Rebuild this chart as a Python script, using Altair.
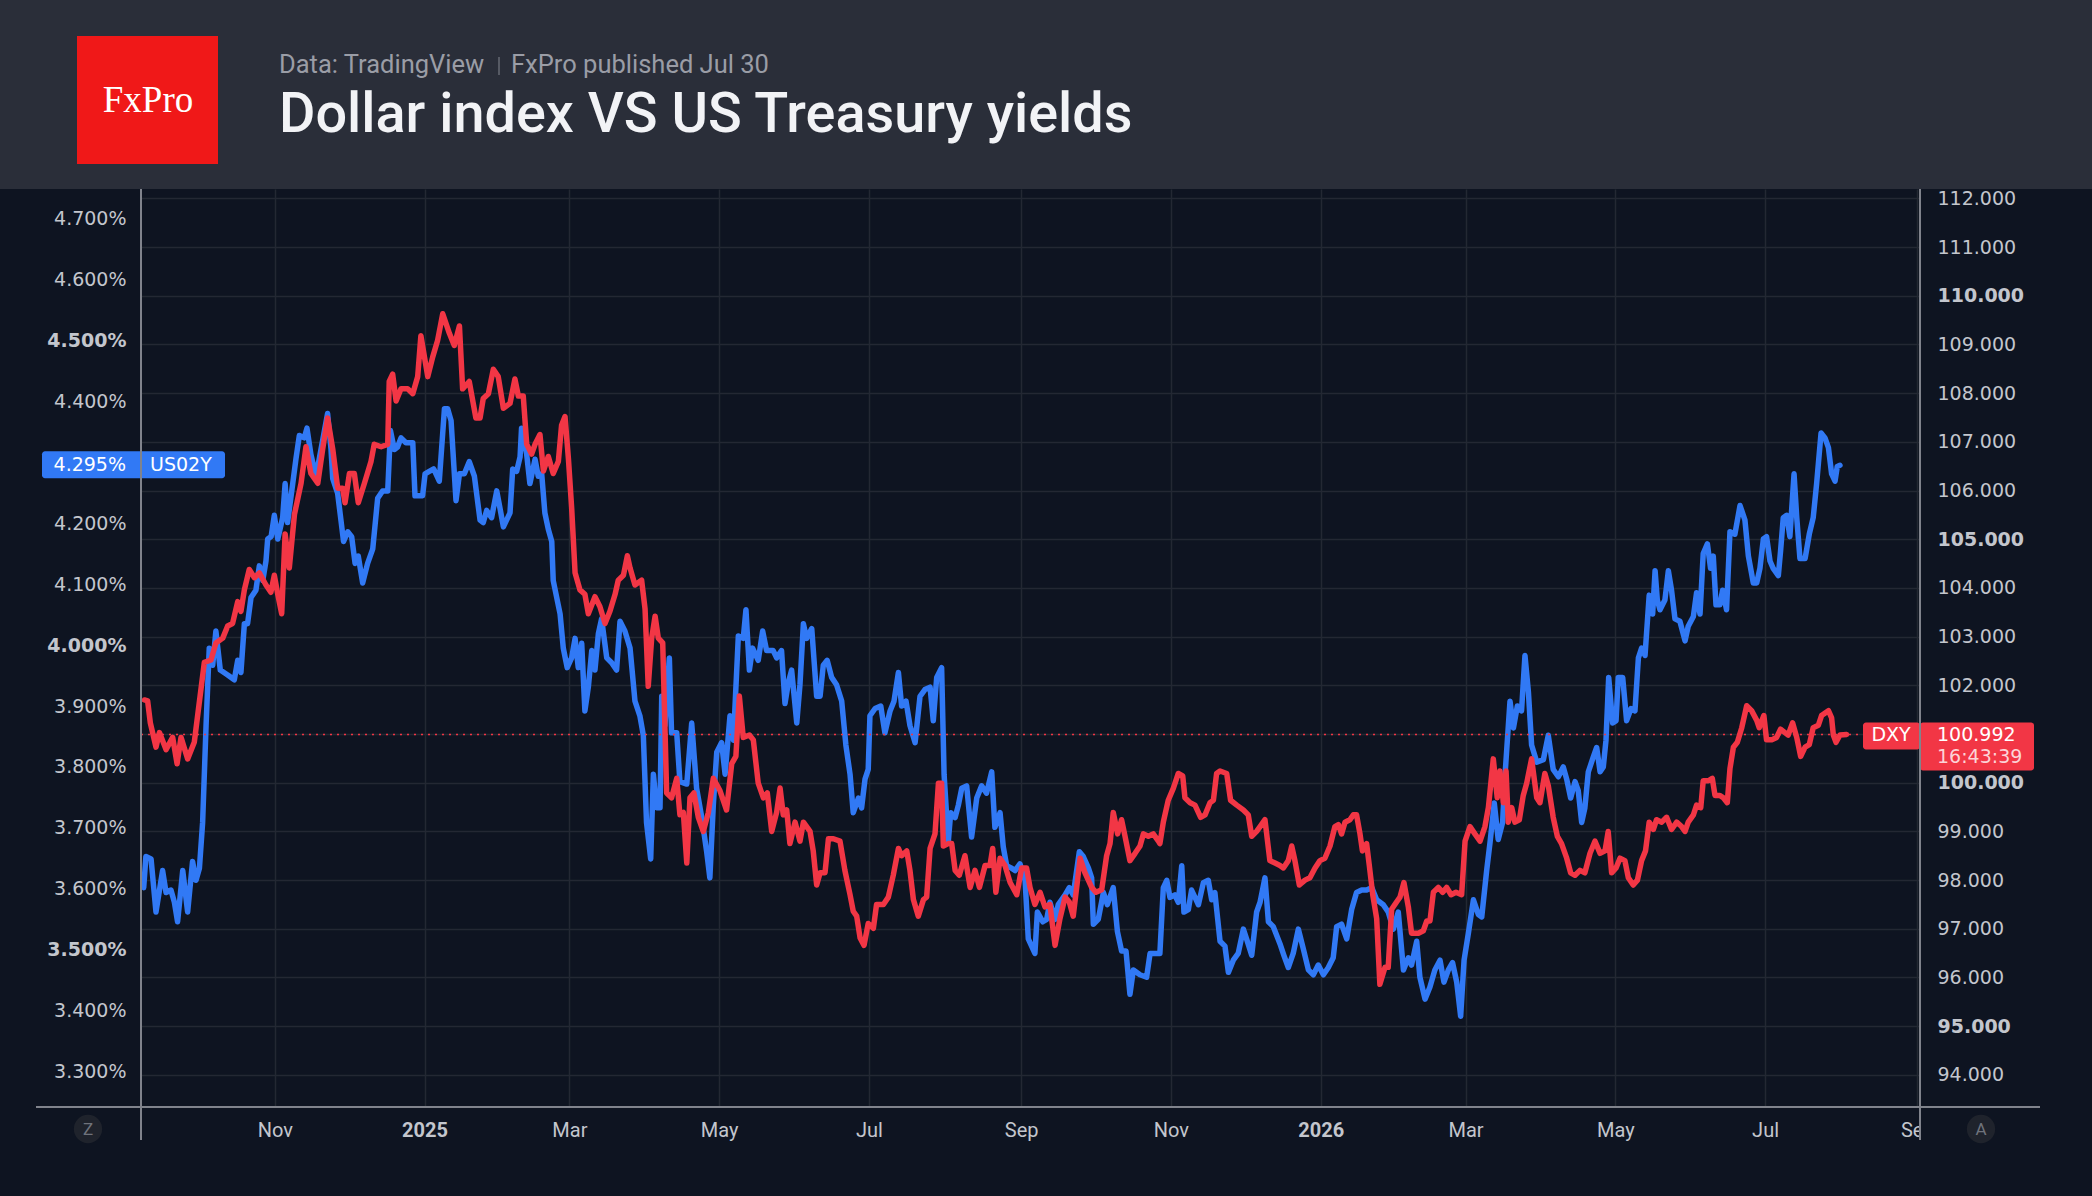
import altair as alt
import pandas as pd

# ---------------- data ----------------
# day = days after 2024-09-07 12:00 (calendar time), value = reading
BASE = pd.Timestamp("2024-09-07 12:00:00")

US02Y = [
    (1.1, 3.602), (2.0, 3.653), (4.1, 3.649), (6.1, 3.562), (8.8, 3.630), (10.2, 3.594), (12.2, 3.598),
    (13.6, 3.578), (14.9, 3.546), (17.0, 3.630), (19.0, 3.562), (21.0, 3.645), (22.4, 3.614), (23.8, 3.634),
    (25.1, 3.709), (26.5, 3.868), (27.8, 3.995), (29.2, 3.967), (30.5, 4.023), (32.3, 3.959), (35.3, 3.951),
    (38.0, 3.943), (39.4, 3.975), (40.7, 3.955), (42.1, 4.035), (43.4, 4.035), (44.8, 4.078), (46.8, 4.090),
    (48.2, 4.130), (49.6, 4.106), (50.9, 4.138), (51.6, 4.174), (53.0, 4.178), (54.3, 4.213), (55.7, 4.174),
    (57.7, 4.209), (58.7, 4.265), (59.7, 4.201), (61.8, 4.265), (63.1, 4.305), (64.5, 4.344), (66.5, 4.340),
    (67.6, 4.356), (69.2, 4.313), (71.3, 4.277), (73.3, 4.321), (76.0, 4.380), (77.4, 4.321), (78.1, 4.273),
    (80.1, 4.249), (82.5, 4.170), (84.2, 4.186), (85.8, 4.178), (87.2, 4.134), (88.5, 4.146), (90.3, 4.102),
    (92.3, 4.134), (94.4, 4.158), (96.4, 4.241), (98.4, 4.253), (100.5, 4.253), (101.6, 4.352), (103.2, 4.321),
    (104.5, 4.325), (105.9, 4.340), (107.9, 4.332), (110.7, 4.332), (111.6, 4.245), (114.7, 4.245), (115.7, 4.281),
    (117.4, 4.285), (119.2, 4.289), (121.5, 4.269), (123.6, 4.388), (124.9, 4.388), (126.3, 4.368), (128.3, 4.237),
    (129.7, 4.281), (131.7, 4.281), (133.7, 4.301), (135.8, 4.277),
    (138.1, 4.205), (139.4, 4.201), (140.8, 4.221), (142.8, 4.209), (144.9, 4.253), (146.2, 4.225), (147.6, 4.194),
    (150.3, 4.217), (151.4, 4.289), (153.0, 4.285), (154.4, 4.309), (155.0, 4.356), (157.1, 4.313), (158.4, 4.265),
    (160.5, 4.305), (161.8, 4.277), (163.2, 4.281), (164.5, 4.217), (165.9, 4.190), (167.3, 4.170), (167.9, 4.106),
    (170.7, 4.051), (172.0, 3.995), (173.6, 3.963), (175.4, 3.979), (176.8, 4.011), (178.1, 3.963), (179.5, 4.003),
    (180.8, 3.892), (182.2, 3.931), (183.6, 3.991), (184.9, 3.959), (186.3, 4.019), (187.6, 4.043), (189.7, 3.979),
    (191.7, 3.971), (193.7, 3.959), (195.1, 4.039), (197.1, 4.023), (199.2, 3.995), (201.2, 3.908), (203.2, 3.884),
    (204.6, 3.852), (205.9, 3.709), (207.6, 3.649), (208.7, 3.788), (210.0, 3.733), (211.4, 3.733), (212.1, 3.916),
    (213.4, 3.868), (215.2, 3.979), (216.1, 3.856), (218.2, 3.856), (219.5, 3.776), (222.3, 3.772), (224.3, 3.872),
    (226.3, 3.765), (228.4, 3.717), (230.4, 3.661), (231.7, 3.618), (233.1, 3.737), (234.5, 3.824), (236.5, 3.840),
    (237.9, 3.788), (239.9, 3.884), (241.3, 3.844), (243.3, 4.015), (245.3, 4.011), (246.4, 4.058), (247.8, 3.959),
    (249.1, 3.995), (251.4, 3.975), (253.2, 4.023), (254.8, 3.991), (257.5, 3.991), (258.9, 3.979), (260.9, 3.991),
    (262.3, 3.904), (263.7, 3.939), (265.0, 3.959), (267.1, 3.872), (268.4, 3.935), (269.8, 4.035), (271.1, 4.011),
    (273.2, 4.027), (275.2, 3.916),
    (276.6, 3.916), (277.9, 3.967), (279.5, 3.975), (281.3, 3.947), (283.3, 3.935), (285.4, 3.908), (287.1, 3.836),
    (288.8, 3.788), (290.1, 3.725), (292.2, 3.749), (293.5, 3.733), (294.9, 3.780), (296.2, 3.796), (296.9, 3.884),
    (299.0, 3.896), (301.3, 3.900), (303.0, 3.856), (305.1, 3.892), (306.7, 3.908), (308.5, 3.955), (309.8, 3.900),
    (311.6, 3.908), (313.2, 3.868), (315.3, 3.840), (317.3, 3.916), (319.3, 3.927), (321.4, 3.931), (322.7, 3.876),
    (324.1, 3.947), (326.1, 3.963), (327.1, 3.788), (328.8, 3.677), (329.8, 3.725), (331.6, 3.717), (332.9, 3.737),
    (334.3, 3.765), (336.3, 3.769), (338.3, 3.685), (340.4, 3.749), (342.4, 3.769), (344.4, 3.757), (346.5, 3.792),
    (347.8, 3.701), (349.9, 3.725), (351.2, 3.669), (352.6, 3.638), (354.6, 3.634), (356.0, 3.630), (358.0, 3.641),
    (360.1, 3.614), (361.4, 3.518), (364.1, 3.494), (365.1, 3.562), (367.3, 3.546), (368.9, 3.550), (370.2, 3.578),
    (372.3, 3.550), (373.6, 3.574), (376.4, 3.590), (378.1, 3.602), (379.7, 3.590), (382.2, 3.661), (383.8, 3.653),
    (385.9, 3.634), (387.2, 3.618), (387.9, 3.542), (389.9, 3.550), (392.0, 3.594), (393.6, 3.574), (396.0, 3.602),
    (397.7, 3.530), (399.4, 3.498), (401.2, 3.498), (402.8, 3.427), (404.2, 3.467), (406.9, 3.459), (409.6, 3.455),
    (411.0, 3.494), (413.0, 3.494),
    (415.0, 3.494), (416.4, 3.602), (417.8, 3.614), (419.1, 3.586), (421.1, 3.590), (422.5, 3.578), (423.9, 3.638),
    (424.8, 3.562), (426.6, 3.566), (427.9, 3.598), (429.3, 3.586), (430.7, 3.574), (432.7, 3.610), (434.7, 3.614),
    (436.1, 3.582), (437.4, 3.594), (439.5, 3.514), (441.5, 3.506), (442.9, 3.463), (444.9, 3.483), (446.9, 3.494),
    (449.0, 3.534), (450.3, 3.518), (452.4, 3.491), (454.4, 3.562), (455.8, 3.578), (457.8, 3.618), (459.2, 3.546),
    (461.2, 3.538), (463.9, 3.510), (465.5, 3.491), (467.3, 3.471), (469.3, 3.494), (471.4, 3.534), (473.4, 3.502),
    (475.5, 3.467), (477.5, 3.459), (479.5, 3.475), (481.6, 3.459), (483.6, 3.471), (485.6, 3.487), (487.0, 3.538),
    (489.0, 3.542), (491.1, 3.518), (493.1, 3.566), (495.1, 3.594), (497.2, 3.598), (499.2, 3.598), (501.3, 3.602),
    (503.3, 3.582), (506.0, 3.574), (508.0, 3.562), (510.1, 3.534), (512.1, 3.562), (514.2, 3.467), (516.2, 3.487),
    (517.5, 3.475), (519.6, 3.514), (520.9, 3.455), (523.0, 3.419), (525.0, 3.439), (527.0, 3.467), (529.1, 3.483),
    (530.7, 3.447), (532.5, 3.467), (534.2, 3.479), (535.9, 3.447), (537.5, 3.391), (538.9, 3.483), (540.6, 3.526),
    (542.7, 3.582), (544.7, 3.558), (546.1, 3.554), (548.1, 3.630), (549.5, 3.677), (551.2, 3.741), (552.8, 3.681),
    (554.6, 3.709), (555.6, 3.788), (557.6, 3.908), (559.0, 3.864), (560.6, 3.900), (562.3, 3.892), (563.7, 3.983),
    (565.1, 3.923), (566.4, 3.836), (568.5, 3.808), (571.2, 3.812), (573.2, 3.852), (575.2, 3.796), (577.3, 3.784),
    (579.3, 3.800), (580.7, 3.780), (582.3, 3.749), (584.1, 3.776), (585.4, 3.761), (586.8, 3.709), (588.1, 3.733),
    (589.5, 3.792), (591.5, 3.816), (592.9, 3.832), (594.3, 3.792), (595.6, 3.800), (596.7, 3.844), (597.8, 3.947),
    (599.4, 3.872), (600.8, 3.876), (601.7, 3.947), (603.5, 3.947), (605.1, 3.876), (606.9, 3.896), (608.5, 3.892),
    (609.9, 3.979), (611.2, 3.995), (612.6, 3.983), (614.3, 4.082), (615.7, 4.051), (616.7, 4.122), (617.6, 4.074),
    (618.7, 4.058), (620.7, 4.074), (622.1, 4.122), (623.4, 4.090), (624.8, 4.043), (626.8, 4.039), (628.9, 4.007),
    (630.2, 4.031), (632.3, 4.047), (633.6, 4.086), (635.0, 4.051), (636.3, 4.150), (638.0, 4.166), (639.3, 4.126),
    (640.4, 4.146), (641.5, 4.066), (643.1, 4.066), (644.2, 4.090), (645.8, 4.058), (647.2, 4.186), (649.2, 4.182),
    (651.3, 4.229), (653.3, 4.205), (654.7, 4.146), (656.7, 4.102), (658.1, 4.102), (659.4, 4.126), (660.8, 4.174),
    (662.1, 4.178), (663.5, 4.138), (664.8, 4.126), (666.9, 4.114), (667.8, 4.154), (668.9, 4.209), (670.3, 4.213),
    (671.6, 4.178), (673.3, 4.281), (674.4, 4.209), (675.7, 4.142), (677.8, 4.142), (679.5, 4.182), (681.1, 4.209),
    (682.5, 4.265), (684.3, 4.348), (685.9, 4.340), (687.3, 4.324), (688.6, 4.281), (690.0, 4.269), (690.9, 4.293),
    (692.0, 4.295),
]

DXY = [
    (1.4, 101.70), (2.7, 101.68), (3.8, 101.23), (6.1, 100.73), (7.5, 101.03), (10.2, 100.68), (12.9, 100.93),
    (14.7, 100.39), (16.3, 100.93), (19.0, 100.49), (21.7, 100.83), (25.8, 102.47), (28.5, 102.52), (30.5, 102.87),
    (33.3, 102.97), (35.3, 103.22), (37.3, 103.27), (39.4, 103.72), (40.7, 103.52), (42.1, 103.96), (44.1, 104.38),
    (46.2, 104.21), (48.2, 104.31), (50.9, 104.06), (52.9, 103.91), (54.3, 104.26), (55.7, 103.87), (57.3, 103.47),
    (58.7, 105.11), (60.4, 104.41), (62.5, 105.51), (65.2, 106.15), (67.2, 106.90), (69.2, 106.35), (72.0, 106.15),
    (74.0, 106.85), (76.0, 107.49), (78.1, 106.85), (80.1, 106.05), (82.1, 106.05), (83.1, 105.75), (84.9, 106.35),
    (86.9, 106.35), (88.5, 105.75), (91.0, 106.15), (93.7, 106.60), (95.0, 106.95), (97.8, 106.90), (100.5, 106.95),
    (101.1, 108.24), (102.5, 108.39), (103.9, 107.84), (105.9, 108.09), (108.6, 108.09), (110.7, 107.99),
    (112.7, 108.34), (114.0, 109.18), (116.8, 108.34), (118.8, 108.74), (120.8, 109.08), (122.9, 109.63),
    (125.6, 109.23), (127.6, 108.98), (129.7, 109.38), (131.0, 108.09), (133.7, 108.24), (136.4, 107.49),
    (138.1, 107.49), (139.4, 107.89), (141.5, 107.99), (143.5, 108.49), (145.5, 108.34), (147.6, 107.69),
    (150.3, 107.79), (152.3, 108.29), (153.7, 107.94), (155.7, 107.94), (157.1, 106.95), (159.1, 106.75),
    (160.5, 106.95), (162.5, 107.15), (163.9, 106.40), (165.9, 106.70), (167.9, 106.35), (170.0, 106.60),
    (171.3, 107.34), (172.7, 107.52), (174.1, 106.65), (175.4, 105.65), (176.8, 104.31), (178.8, 103.96),
    (180.8, 103.87), (182.2, 103.47), (184.9, 103.82), (186.9, 103.62), (189.0, 103.27), (191.0, 103.52),
    (193.1, 103.87), (194.4, 104.16), (196.5, 104.26), (198.1, 104.66), (199.2, 104.41), (201.2, 104.06),
    (203.9, 104.16), (205.3, 103.57), (206.6, 101.98), (208.0, 102.97), (209.4, 103.42), (210.7, 102.97),
    (212.5, 102.87), (214.1, 99.79), (216.1, 99.69), (218.2, 100.09), (219.5, 99.34), (220.9, 99.39),
    (222.3, 98.35), (223.6, 99.69), (225.2, 99.79), (227.0, 99.29), (229.0, 99.00), (231.1, 99.39),
    (233.1, 100.09), (235.8, 99.84), (238.5, 99.44), (240.6, 100.39), (242.3, 100.54), (243.7, 101.78),
    (245.3, 100.93), (247.8, 100.98), (249.4, 100.88), (251.4, 99.99), (253.5, 99.69), (255.1, 99.79),
    (256.9, 99.00), (258.9, 99.39), (260.3, 99.89), (261.6, 99.34), (263.0, 99.44), (264.3, 98.75),
    (266.4, 99.19), (268.4, 98.80), (269.8, 99.19), (272.5, 99.00), (273.8, 98.60), (275.2, 97.90),
    (276.6, 98.15), (278.6, 98.15), (280.0, 98.85), (282.0, 98.85), (284.7, 98.80), (286.7, 98.20), (288.8, 97.70),
    (290.1, 97.36), (291.5, 97.26), (292.9, 96.81), (294.5, 96.66), (296.2, 97.11), (298.3, 97.01), (299.6, 97.50),
    (302.4, 97.50), (304.4, 97.65), (306.4, 98.10), (308.5, 98.65), (309.8, 98.50), (311.9, 98.60), (313.2, 98.20),
    (314.6, 97.60), (316.6, 97.26), (318.7, 97.60), (320.0, 97.65), (321.4, 98.65), (323.4, 98.95), (324.8, 99.99),
    (326.1, 99.99), (326.8, 98.70), (328.8, 98.75), (330.2, 98.75), (331.6, 98.20), (333.3, 98.10), (335.6, 98.50),
    (337.7, 97.85), (339.7, 98.20), (341.5, 97.85), (343.8, 98.30), (345.8, 98.30), (346.9, 98.65), (348.2, 97.75),
    (349.9, 98.45), (351.9, 98.30), (354.0, 97.95), (356.7, 97.70), (358.7, 98.25), (360.7, 98.25), (362.1, 97.85),
    (364.1, 97.50), (366.2, 97.75), (368.2, 97.45), (370.2, 97.50), (372.3, 96.66), (374.3, 97.21), (376.4, 97.65),
    (378.1, 97.55), (379.7, 97.26), (381.1, 97.85), (382.5, 98.45), (384.5, 98.15), (387.2, 97.85), (389.0, 97.75),
    (391.3, 97.80), (393.3, 98.50), (394.7, 98.75), (396.0, 99.39), (397.8, 98.95), (399.4, 99.24), (400.8, 98.90),
    (402.8, 98.40), (404.9, 98.55), (406.9, 98.70), (408.3, 98.95), (410.3, 98.90), (412.3, 98.95), (414.4, 98.80),
    (415.0, 98.75), (416.4, 99.19), (418.4, 99.64), (420.5, 99.89), (422.5, 100.19), (424.3, 100.14), (425.2, 99.69),
    (427.3, 99.59), (429.3, 99.54), (431.6, 99.29), (433.4, 99.34), (435.4, 99.59), (436.8, 99.64), (438.1, 100.19),
    (439.5, 100.24), (442.2, 100.19), (443.8, 99.64), (446.3, 99.54), (449.0, 99.44), (451.0, 99.34), (452.4, 98.90),
    (454.4, 99.00), (455.8, 99.10), (457.8, 99.24), (459.8, 98.40), (461.9, 98.35), (463.9, 98.30), (465.3, 98.25),
    (467.3, 98.40), (468.7, 98.70), (470.0, 98.40), (471.8, 97.90), (474.1, 98.00), (476.1, 98.05), (478.2, 98.25),
    (480.2, 98.40), (482.2, 98.45), (484.3, 98.70), (486.3, 99.10), (487.7, 99.14), (489.0, 98.95), (490.4, 99.19),
    (492.4, 99.24), (493.8, 99.34), (495.1, 99.34), (496.5, 98.95), (497.5, 98.60), (499.2, 98.75), (500.3, 98.30),
    (501.7, 97.70), (503.3, 97.21), (504.6, 95.86), (506.7, 96.21), (508.0, 96.21), (509.4, 97.40), (511.4, 97.55),
    (512.8, 97.65), (514.4, 97.95), (516.2, 97.45), (517.5, 96.91), (520.3, 96.91), (522.3, 96.96), (523.7, 97.16),
    (525.0, 97.16), (526.4, 97.75), (528.4, 97.85), (530.2, 97.75), (531.8, 97.85), (533.6, 97.70), (535.6, 97.75),
    (537.9, 97.70), (539.3, 98.80), (541.3, 99.10), (543.3, 98.95), (545.4, 98.80), (547.4, 99.10), (548.8, 99.49),
    (550.8, 100.49), (552.4, 99.69),
    (553.5, 100.24), (554.9, 99.59), (556.0, 100.24), (556.9, 99.19), (558.3, 99.49), (559.6, 99.19), (561.4, 99.24),
    (563.0, 99.74), (564.4, 99.99), (566.4, 100.49), (568.5, 99.69), (569.8, 99.59), (571.8, 100.19), (573.2, 99.94),
    (575.2, 99.29), (576.9, 98.90), (578.6, 98.75), (580.7, 98.45), (582.3, 98.15), (584.1, 98.10), (586.1, 98.20),
    (588.1, 98.15), (590.2, 98.55), (592.2, 98.80), (594.3, 98.55), (596.3, 98.60), (597.6, 99.00), (599.0, 98.15),
    (600.8, 98.25), (602.4, 98.45), (604.4, 98.40), (605.8, 98.05), (607.8, 97.90), (609.5, 98.00), (611.2, 98.40),
    (612.8, 98.60), (614.3, 99.19), (616.0, 99.04), (617.3, 99.24), (619.4, 99.19), (621.4, 99.29), (623.4, 99.04),
    (625.5, 99.19), (627.5, 99.10), (628.9, 99.00), (630.2, 99.19), (632.3, 99.34), (633.6, 99.54), (635.3, 99.49),
    (636.3, 100.04), (638.4, 100.04), (640.0, 100.09), (641.1, 99.74), (643.1, 99.74), (644.5, 99.69), (646.1, 99.59),
    (647.2, 100.29), (648.6, 100.73), (650.2, 100.83), (652.0, 101.13), (654.0, 101.58), (656.0, 101.48),
    (658.1, 101.28), (659.1, 101.13), (661.0, 101.38), (662.1, 100.88), (664.2, 100.88), (666.2, 100.93),
    (667.8, 101.10), (669.6, 101.03), (670.9, 100.98), (672.7, 101.23), (674.4, 100.93), (676.0, 100.54),
    (677.8, 100.73), (679.5, 100.78), (681.1, 101.13), (683.2, 101.18), (684.5, 101.38), (687.3, 101.48),
    (688.6, 101.33), (689.3, 100.98), (690.4, 100.83), (692.0, 100.98), (694.7, 100.992),
]

X_TICKS = [(2024, 11), (2025, 1), (2025, 3), (2025, 5), (2025, 7), (2025, 9),
           (2025, 11), (2026, 1), (2026, 3), (2026, 5), (2026, 7), (2026, 9)]
LEFT_TICKS = [3.3, 3.4, 3.5, 3.6, 3.7, 3.8, 3.9, 4.0, 4.1, 4.2, 4.4, 4.5, 4.6, 4.7]
RIGHT_TICKS = list(range(94, 113))
LAST_US02Y = 4.295
LAST_DXY = 100.992
DXY_TIMER = "16:43:39"
TITLE = "Dollar index VS US Treasury yields"
SOURCE = "Data: TradingView"
PUBLISHED = "FxPro published Jul 30"

# ---------------- styling ----------------
BG = "#0e1421"
HEADER = "#2a2e39"
BLUE = "#3179f5"
RED = "#f23645"
GRID = "#232833"
AXIS_LINE = "#80838c"
LABEL = "#c3c6cd"
YFONT = "DejaVu Sans"
XFONT = "Roboto"
W, H = 1779, 917
LW = 5.5

blue_df = pd.DataFrame(US02Y, columns=["day", "value"])
blue_df["date"] = BASE + pd.to_timedelta(blue_df["day"], unit="D")
red_df = pd.DataFrame(DXY, columns=["day", "value"])
red_df["date"] = BASE + pd.to_timedelta(red_df["day"], unit="D")
one = pd.DataFrame({"k": [0]})

x_scale = alt.Scale(domain=[alt.DateTime(year=2024, month=9, date=7, hours=12),
                            alt.DateTime(year=2026, month=9, date=2, hours=2, minutes=24)], nice=False)
yl_scale = alt.Scale(domain=[3.2437, 4.7484], nice=False, zero=False)
yr_scale = alt.Scale(domain=[93.361, 112.193], nice=False, zero=False)

x_axis = alt.Axis(
    values=[alt.DateTime(year=y, month=m, date=1) for y, m in X_TICKS],
    labelExpr="month(datum.value) == 0 ? timeFormat(datum.value, '%Y') : timeFormat(datum.value, '%b')",
    labelFontWeight={"condition": {"test": "month(datum.value) == 0", "value": "bold"}, "value": "normal"},
    labelFont=XFONT, labelFontSize=20, labelColor=LABEL, labelPadding=14,
    labelOverlap=False, labelFlush=False, domain=False, ticks=False,
    grid=True, gridColor=GRID, gridWidth=1.5, title=None,
)
yl_axis = alt.Axis(
    orient="left", values=LEFT_TICKS,
    labelExpr="format(datum.value, '.3f') + '%'",
    labelFontWeight={"condition": {"test": "abs(datum.value * 2 - round(datum.value * 2)) < 0.001", "value": "bold"},
                     "value": "normal"},
    labelFont=YFONT, labelFontSize=19, labelColor=LABEL, labelPadding=15,
    labelOverlap=False, labelFlush=False, domain=False, ticks=False, grid=False, title=None,
)
yr_axis = alt.Axis(
    orient="right", values=RIGHT_TICKS,
    labelExpr="datum.value == 101 ? '' : format(datum.value, '.3f')",
    labelFontWeight={"condition": {"test": "datum.value % 5 == 0", "value": "bold"}, "value": "normal"},
    labelFont=YFONT, labelFontSize=19, labelColor=LABEL, labelPadding=17,
    labelOverlap=False, labelFlush=False, domain=False, ticks=False,
    grid=True, gridColor=GRID, gridWidth=1.5, title=None,
)

# ---------------- US02Y (left scale) ----------------
blue_line = alt.Chart(blue_df).mark_line(color=BLUE, strokeWidth=LW, strokeJoin="round", strokeCap="round").encode(
    x=alt.X("date:T", scale=x_scale, axis=x_axis),
    y=alt.Y("value:Q", scale=yl_scale, axis=yl_axis),
)
blue_last = pd.DataFrame({"v": [LAST_US02Y]})
blue_tag = alt.Chart(blue_last).mark_rect(color=BLUE, cornerRadius=3, yOffset=-14, y2Offset=13).encode(
    x=alt.value(-99), x2=alt.value(84),
    y=alt.Y("v:Q", scale=yl_scale, axis=yl_axis), y2=alt.Y2("v"),
)
blue_tag_val = alt.Chart(blue_last).mark_text(
    align="right", baseline="middle", font=YFONT, fontSize=19, color="#ffffff",
    text=f"{LAST_US02Y:.3f}%").encode(x=alt.value(-15), y=alt.Y("v:Q", scale=yl_scale, axis=yl_axis))
blue_tag_name = alt.Chart(blue_last).mark_text(
    align="left", baseline="middle", font=YFONT, fontSize=19, color="#ffffff",
    text="US02Y").encode(x=alt.value(9), y=alt.Y("v:Q", scale=yl_scale, axis=yl_axis))
blue_group = alt.layer(blue_line, blue_tag, blue_tag_val, blue_tag_name)

# ---------------- DXY (right scale) ----------------
red_last = pd.DataFrame({"v": [LAST_DXY]})
red_dots = alt.Chart(red_last).mark_rule(color=RED, strokeWidth=1.5, strokeDash=[2, 5]).encode(
    x=alt.value(0), x2=alt.value(1722), y=alt.Y("v:Q", scale=yr_scale, axis=yr_axis))
red_line = alt.Chart(red_df).mark_line(color=RED, strokeWidth=LW, strokeJoin="round", strokeCap="round").encode(
    x=alt.X("date:T", scale=x_scale, axis=x_axis),
    y=alt.Y("value:Q", scale=yr_scale, axis=yr_axis),
)
red_name_box = alt.Chart(red_last).mark_rect(color=RED, cornerRadius=3, yOffset=-12, y2Offset=15).encode(
    x=alt.value(1722), x2=alt.value(1779), y=alt.Y("v:Q", scale=yr_scale, axis=yr_axis), y2=alt.Y2("v"))
red_price_box = alt.Chart(red_last).mark_rect(color=RED, cornerRadius=3, yOffset=-12, y2Offset=36).encode(
    x=alt.value(1779), x2=alt.value(1893), y=alt.Y("v:Q", scale=yr_scale, axis=yr_axis), y2=alt.Y2("v"))
red_name = alt.Chart(red_last).mark_text(
    align="center", baseline="middle", font=YFONT, fontSize=19, color="#ffffff", dy=1,
    text="DXY").encode(x=alt.value(1750), y=alt.Y("v:Q", scale=yr_scale, axis=yr_axis))
red_price = alt.Chart(red_last).mark_text(
    align="left", baseline="middle", font=YFONT, fontSize=19, color="#ffffff", dy=1,
    text=f"{LAST_DXY:.3f}").encode(x=alt.value(1796), y=alt.Y("v:Q", scale=yr_scale, axis=yr_axis))
red_timer = alt.Chart(red_last).mark_text(
    align="left", baseline="middle", font=YFONT, fontSize=19, color="#fcd3d7", dy=23,
    text=DXY_TIMER).encode(x=alt.value(1796), y=alt.Y("v:Q", scale=yr_scale, axis=yr_axis))
red_group = alt.layer(red_dots, red_line, red_name_box, red_price_box, red_name, red_price, red_timer)

# ---------------- header & frame decorations ----------------
header = alt.Chart(one).mark_rect(color=HEADER).encode(
    x=alt.value(-141), x2=alt.value(1951), y=alt.value(-189), y2=alt.value(0))
logo = alt.Chart(one).mark_rect(color="#f01818").encode(
    x=alt.value(-64), x2=alt.value(77), y=alt.value(-153), y2=alt.value(-25))
logo_text = alt.Chart(one).mark_text(
    text="FxPro", font="Liberation Serif", fontSize=37, color="#ffffff", align="center", baseline="alphabetic"
).encode(x=alt.value(7), y=alt.value(-77))
src_text = alt.Chart(one).mark_text(
    text=SOURCE, font="Roboto", fontSize=25.5, color="#9a9da6", align="left", baseline="alphabetic"
).encode(x=alt.value(138), y=alt.value(-116))
sep = alt.Chart(one).mark_rule(color="#666a73", strokeWidth=1.5).encode(
    x=alt.value(358), y=alt.value(-132), y2=alt.value(-114))
pub_text = alt.Chart(one).mark_text(
    text=PUBLISHED, font="Roboto", fontSize=25.5, color="#9a9da6", align="left", baseline="alphabetic"
).encode(x=alt.value(370), y=alt.value(-116))
title = alt.Chart(one).mark_text(
    text=TITLE, font="Roboto", fontSize=55.8, fontWeight=500, color="#f2f3f6", align="left", baseline="alphabetic"
).encode(x=alt.value(138), y=alt.value(-57))

sep_clip = alt.Chart(one).mark_rect(color=BG).encode(
    x=alt.value(1780), x2=alt.value(1800), y=alt.value(919), y2=alt.value(962))
left_line = alt.Chart(one).mark_rule(color=AXIS_LINE, strokeWidth=2).encode(
    x=alt.value(0), y=alt.value(0), y2=alt.value(951))
right_line = alt.Chart(one).mark_rule(color=AXIS_LINE, strokeWidth=2).encode(
    x=alt.value(1779), y=alt.value(0), y2=alt.value(951))
bottom_line = alt.Chart(one).mark_rule(color=AXIS_LINE, strokeWidth=2).encode(
    x=alt.value(-105), x2=alt.value(1899), y=alt.value(918))
z_btn = alt.Chart(one).mark_circle(size=800, color="#1f232c", opacity=1).encode(x=alt.value(-53), y=alt.value(940))
z_txt = alt.Chart(one).mark_text(text="Z", font="Roboto", fontSize=17, color="#6f737c",
                                 align="center", baseline="middle").encode(x=alt.value(-53), y=alt.value(941))
a_btn = alt.Chart(one).mark_circle(size=800, color="#1f232c", opacity=1).encode(x=alt.value(1840), y=alt.value(940))
a_txt = alt.Chart(one).mark_text(text="A", font="Roboto", fontSize=17, color="#6f737c",
                                 align="center", baseline="middle").encode(x=alt.value(1840), y=alt.value(941))

series = alt.layer(blue_group, red_group).resolve_scale(y="independent")

chart = alt.layer(
    header, logo, logo_text, src_text, sep, pub_text, title,
    series,
    sep_clip, left_line, right_line, bottom_line, z_btn, z_txt, a_btn, a_txt,
).properties(
    width=W, height=H,
    autosize=alt.AutoSizeParams(type="none"),
    padding={"left": 141, "top": 189, "right": 172, "bottom": 90},
    background=BG,
).configure_view(stroke=None)

chart.save("out.html", embed_options={"renderer": "svg", "actions": False})
